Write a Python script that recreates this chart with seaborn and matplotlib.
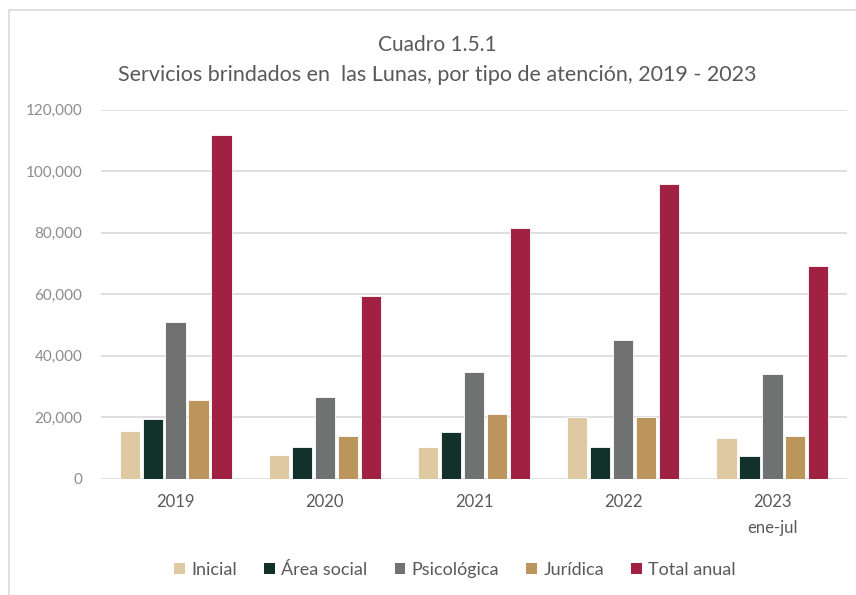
import matplotlib
matplotlib.use("Agg")
import matplotlib.pyplot as plt
import seaborn as sns
import pandas as pd
from matplotlib.patches import Rectangle, Patch

years = ["2019", "2020", "2021", "2022", "2023\nene-jul"]
series = ["Inicial", "Área social", "Psicológica", "Jurídica", "Total anual"]
inicial = [15400, 7700, 10300, 20000, 13300]
area_social = [19500, 10300, 15300, 10300, 7300]
psicologica = [51000, 26500, 34600, 45200, 34000]
juridica = [25600, 13800, 20900, 20000, 13800]
total_anual = [111600, 59400, 81500, 95800, 69100]
colors = ["#DFC9A2", "#12312B", "#6F7271", "#BC955C", "#A02142"]
yticks = [0, 20000, 40000, 60000, 80000, 100000, 120000]

sns.set_theme(style="white")
plt.rcParams["font.family"] = ["Lato", "DejaVu Sans"]

values = [inicial, area_social, psicologica, juridica, total_anual]
rows = []
for s, vals in zip(series, values):
    for y, v in zip(years, vals):
        rows.append({"Año": y, "Tipo": s, "Valor": v})
df = pd.DataFrame(rows)

fig = plt.figure(figsize=(8.56, 5.95), dpi=100)
ax = fig.add_axes([101/856, 1 - 478.7/595, (847-101)/856, (478.7-109.6)/595])

sns.barplot(data=df, x="Año", y="Valor", hue="Tipo", order=years, hue_order=series,
            palette=colors, saturation=1, width=0.77, gap=0.12, edgecolor="white",
            linewidth=0.6, ax=ax, legend=False, errorbar=None)

ax.set_ylim(0, 120000)
ax.set_yticks(yticks)
ax.set_yticklabels([f"{t:,}" for t in yticks])
ax.set_xlim(-0.5, len(years) - 0.5)
for s in ax.spines.values():
    s.set_visible(False)
ax.grid(axis="y", color="#D9D9D9", linewidth=1.2)
ax.set_axisbelow(True)
ax.tick_params(axis="y", length=0, pad=13.5, labelsize=11, labelcolor="#8C8C8C")
ax.tick_params(axis="x", length=0, pad=11, labelsize=12, labelcolor="#595959")
ax.set_xlabel("")
ax.set_ylabel("")
for lbl in ax.get_xticklabels():
    lbl.set_linespacing(1.75)

fig.text(437/856, 1 - 45/595, "Cuadro 1.5.1", ha="center", va="center",
         fontsize=15, color="#595959")
fig.text(437/856, 1 - 75/595,
         "Servicios brindados en  las Lunas, por tipo de atención, 2019 - 2023",
         ha="center", va="center", fontsize=15.5, color="#595959")

handles = [Patch(facecolor=c, edgecolor="none", label=s) for c, s in zip(colors, series)]
leg = fig.legend(handles=handles, loc="center", bbox_to_anchor=(455/856, 1 - 570/595),
                 ncol=5, frameon=False, fontsize=13, handlelength=0.6, handleheight=0.6,
                 handletextpad=0.35, columnspacing=1.5, labelcolor="#595959")

fig.patches.append(Rectangle((9/856, -0.1), 1.2, 1.1 - 10/595, transform=fig.transFigure,
                             fill=False, edgecolor="#D9D9D9", linewidth=1.2))

fig.savefig("out.png", dpi=100)
